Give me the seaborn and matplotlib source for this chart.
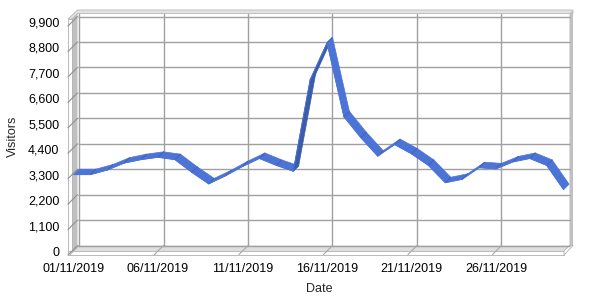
import numpy as np
import matplotlib
matplotlib.use("Agg")
import matplotlib.pyplot as plt
import matplotlib.transforms as mtransforms
from matplotlib.patches import Polygon
import seaborn as sns

# ---- data ----
days = list(range(1, 31))
visitors = [3300, 3300, 3500, 3800, 3950, 4050, 3950, 3400, 2900, 3250,
            3650, 4000, 3700, 3450, 7400, 9000, 5800, 4900, 4100, 4600,
            4200, 3700, 2950, 3100, 3600, 3550, 3850, 4000, 3700, 2650]
xtick_days = [1, 6, 11, 16, 21, 26]
xtick_labels = ["01/11/2019", "06/11/2019", "11/11/2019",
                "16/11/2019", "21/11/2019", "26/11/2019"]
ytick_values = [0, 1100, 2200, 3300, 4400, 5500, 6600, 7700, 8800, 9900]
ytick_labels = ["0", "1,100", "2,200", "3,300", "4,400", "5,500",
                "6,600", "7,700", "8,800", "9,900"]

sns.set_style("white")
plt.rcParams['font.family'] = ['Liberation Sans', 'DejaVu Sans']

W, H = 600, 300
fig = plt.figure(figsize=(6, 3), dpi=100)
L, R, B, T = 72, 564, 251, 22
ax = fig.add_axes([L / W, (H - B) / H, (R - L) / W, (B - T) / H])
ax.set_xlim(0.911, 30.024)
ax.set_ylim(0, 9900)
ax.set_facecolor("none")
for s in ax.spines.values():
    s.set_visible(False)

D = 5.5
back = mtransforms.offset_copy(ax.transData, fig=fig, x=D, y=D, units='dots')
ident = mtransforms.IdentityTransform()


def P(x, y):  # image pixel coords -> display
    return (x, H - y)


def poly(pts, fc, ec="none", lw=0.0, z=1):
    p = Polygon([P(*q) for q in pts], closed=True, facecolor=fc, edgecolor=ec,
                linewidth=lw, clip_on=False, zorder=z)
    ax.add_artist(p)
    p.set_transform(ident)
    return p


grid_c = "#a0a0a0"
# top band (top of back wall)
poly([(68, 19), (77.5, 10), (573, 10), (573, 13.5), (77.5, 13.5), (72, 19)],
     "#e2e2e2", "#b8b8b8", 0.6, z=0.5)
# left wall
poly([(72, 251), (72, 19), (77.5, 13.5), (77.5, 245.5)], "#c0c0c0", z=0.6)
# left slab front strip
poly([(68, 19), (72, 19), (72, 255), (68, 255)], "white", "#b0b0b0", 0.6, z=0.7)
# right wall strip
poly([(569.5, 13.5), (573, 10), (573, 245.5), (569.5, 245.5)], "#c0c0c0", z=0.6)
# floor
poly([(72, 251), (564, 251), (569.5, 245.5), (77.5, 245.5)], "#dedede", z=0.6)
# floor front strip and right corner
poly([(68, 251), (564, 251), (564, 255), (68, 255)], "white", "#b0b0b0", 0.6, z=0.7)
poly([(564, 251), (569.5, 245.5), (573, 245.5), (564, 255)], "white", "#b0b0b0", 0.6, z=0.7)

# horizontal gridlines on back wall + diagonals on left wall
x0, x1 = ax.get_xlim()
for v in ytick_values:
    ax.plot([x0, x1], [v, v], transform=back, color=grid_c, lw=1.0,
            clip_on=False, zorder=1, solid_capstyle="butt")
    fx, fy = ax.transData.transform((x0, v))
    ax.plot([fx - 4, fx + D], [fy - 4, fy + D], transform=ident,
            color="#909090", lw=0.8, clip_on=False, zorder=1)
# vertical gridlines on back wall + diagonals on floor
for d in xtick_days:
    bx, by0 = back.transform((d, 0))
    _, by1 = back.transform((d, 9900))
    ax.plot([bx, bx], [by0, by1 + 3], transform=ident, color=grid_c, lw=1.0,
            clip_on=False, zorder=1)
    fx, fy = ax.transData.transform((d, 0))
    ax.plot([fx - 3.5, fx + D], [fy - 3.5, fy + D], transform=ident,
            color="#a8a8a8", lw=0.8, clip_on=False, zorder=1)

# ---- ribbon ----
light = "#4b74d6"
dark = "#3b5caa"
front = ax.transData.transform(np.column_stack([days, visitors]))
for i in range(len(days) - 1):
    f0, f1 = front[i], front[i + 1]
    b0, b1 = f0 + D, f1 + D
    dx, dy = f1 - f0
    c = light if dx - dy > 0 else dark
    pg = Polygon([f0, f1, b1, b0], closed=True, facecolor=c, edgecolor=c,
                 linewidth=0.5, clip_on=False, zorder=3)
    ax.add_artist(pg)
    pg.set_transform(ident)
for i in range(1, len(days) - 1):
    f = front[i]
    ax.plot([f[0], f[0] + D], [f[1], f[1] + D], transform=ident,
            color="#3d5fb0", lw=0.6, zorder=4, clip_on=False)

sns.lineplot(x=days, y=visitors, ax=ax, color=light, linewidth=0.6,
             zorder=4, clip_on=False)

# ---- axes text ----
ax.set_xticks(xtick_days)
ax.set_xticklabels(xtick_labels)
ax.set_yticks(ytick_values)
ax.set_yticklabels(ytick_labels)
ax.tick_params(axis="both", length=0, labelsize=9, colors="black")
ax.tick_params(axis="y", pad=9)
ax.tick_params(axis="x", pad=9)
ax.set_xlabel("Date", fontsize=9)
ax.set_ylabel("Visitors", fontsize=9)
ax.xaxis.set_label_coords(0.502, -0.138)
ax.yaxis.set_label_coords(-0.107, 0.5)

fig.savefig("out.png", dpi=100)
